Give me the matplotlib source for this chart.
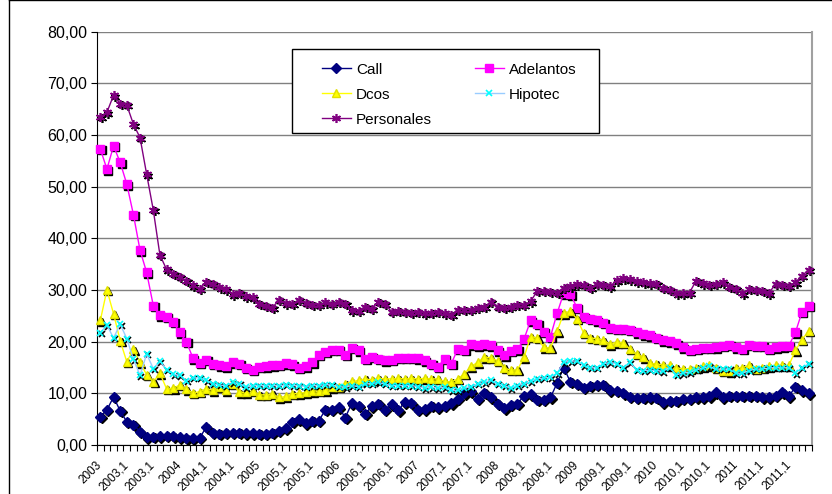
import matplotlib
matplotlib.use("Agg")
import matplotlib.pyplot as plt
from matplotlib.transforms import offset_copy, ScaledTranslation
from matplotlib.patches import Rectangle
from matplotlib.lines import Line2D
import numpy as np

plt.rcParams['font.family'] = ['Liberation Sans', 'DejaVu Sans']

# Monthly rates, Jan 2003 - Dec 2011
call = [5.5, 6.8, 9.3, 6.6, 4.5, 3.9, 2.6, 1.5, 1.6, 1.7, 1.8, 1.7, 1.5, 1.3, 1.3, 1.4, 3.4,
        2.4, 2.2, 2.4, 2.4, 2.4, 2.3, 2.3, 2.2, 2.2, 2.4, 2.7, 3.2, 4.5, 5.0, 4.2, 4.7, 4.7, 6.8, 6.8,
        7.3, 5.3, 8.1, 7.6, 6.0, 7.5, 8.0, 6.8, 7.9, 6.7, 8.3, 8.1, 6.8, 6.9, 7.6, 7.3, 7.6, 8.1,
        9.0, 10.0, 10.4, 8.9,
        10.1, 9.2, 8.0, 7.1, 7.8, 8.0, 9.5, 9.8, 8.7, 8.8, 9.2, 12.0, 15.0, 12.2,
        11.9, 11.1, 11.5, 11.7, 11.6, 10.6, 10.5, 10.0, 9.3, 9.1, 9.1, 9.2, 9.1, 8.3, 8.6, 8.5, 8.9, 9.0,
        9.2, 9.2, 9.4, 10.2, 9.2, 9.5, 9.5, 9.5, 9.5, 9.5, 9.2, 9.2, 9.5, 10.2, 9.4, 11.3, 10.6, 10.0]

adelantos = [57.3, 53.4, 57.9, 54.7, 50.5, 44.6, 37.7, 33.4, 27.0, 25.1, 24.8, 23.8, 21.8, 20.0, 16.8, 15.9, 16.5,
             15.7, 15.4, 15.2, 16.0, 15.7, 14.9, 14.5, 15.1, 15.2, 15.4, 15.5, 15.8, 15.6, 14.9, 15.2, 16.0, 17.5, 18.0, 18.4,
             18.4, 17.5, 18.8, 18.3, 16.7, 17.1, 16.7, 16.4, 16.5, 16.9, 16.9, 16.9, 16.8, 16.4, 15.7, 15.1, 16.7, 15.7,
             18.6, 18.4, 19.5, 19.3,
             19.5, 19.3, 18.3, 17.4, 18.2, 18.5, 20.5, 24.1, 23.5, 21.9, 21.0, 25.5, 29.4, 29.2,
             26.6, 24.8, 24.4, 24.1, 23.6, 22.7, 22.5, 22.5, 22.3, 21.8, 21.4, 21.2, 20.7, 20.3, 20.1, 19.7, 18.9, 18.4,
             18.6, 18.8, 18.8, 18.9, 19.2, 19.4, 18.9, 18.6, 19.4, 19.2, 19.2, 18.6, 18.9, 19.1, 19.2, 21.8, 25.8, 27.0]

dcos = [24.1, 30.0, 25.4, 20.2, 16.1, 18.5, 16.0, 13.6, 12.2, 13.9, 10.9, 11.0, 11.6, 10.8, 10.1, 10.3, 10.9,
        10.6, 11.3, 10.6, 11.8, 10.2, 10.2, 10.5, 9.7, 9.7, 9.9, 9.2, 9.4, 9.9, 10.0, 10.2, 10.4, 10.5, 10.6, 11.2,
        11.3, 11.8, 12.3, 12.5, 12.8, 12.6, 12.9, 12.8, 12.8, 12.9, 12.8, 12.9, 12.8, 12.9, 12.8, 12.8, 12.3, 12.2,
        12.8, 13.8, 15.2, 16.0,
        17.0, 16.9, 16.3, 14.9, 14.5, 14.5, 17.0, 21.0, 20.7, 18.9, 18.8, 22.0, 25.5, 25.9,
        24.4, 21.7, 20.7, 20.6, 20.3, 19.5, 19.9, 19.8, 18.6, 17.6, 17.0, 15.8, 15.7, 15.5, 15.4, 15.0, 14.7, 14.8,
        14.9, 15.2, 15.4, 14.9, 14.4, 14.3, 15.0, 15.0, 15.4, 14.7, 15.0, 15.2, 15.4, 15.4, 15.4, 18.3, 20.4, 22.1]

hipotec = [21.7, 23.2, 20.7, 23.4, 20.6, 16.6, 13.5, 17.6, 14.8, 16.2, 14.6, 13.7, 13.5, 12.4, 13.0, 13.0, 12.5,
           11.9, 11.6, 11.5, 12.1, 11.9, 11.2, 11.5, 11.5, 11.5, 11.5, 11.5, 11.6, 11.5, 11.5, 11.3, 11.5, 11.5, 11.7, 11.6,
           11.3, 11.2, 11.5, 11.3, 11.8, 11.9, 12.1, 11.8, 11.5, 11.5, 11.5, 11.5, 11.3, 11.0, 11.2, 11.0, 11.2, 10.6,
           10.6, 11.0, 11.3, 11.8,
           12.1, 12.5, 11.8, 11.5, 11.0, 11.5, 11.8, 12.3, 12.8, 13.0, 13.1, 13.9, 16.0, 16.2,
           16.3, 15.4, 14.9, 15.0, 15.7, 16.0, 15.7, 15.0, 16.0, 14.5, 14.4, 14.5, 14.4, 14.3, 15.0, 13.6, 13.9, 14.1,
           14.5, 14.9, 15.2, 14.7, 14.7, 14.7, 13.9, 13.9, 14.4, 14.7, 14.7, 14.9, 15.0, 14.9, 15.0, 13.9, 15.0, 15.7]

personales = [63.5, 64.4, 67.7, 66.1, 65.8, 62.1, 59.5, 52.4, 45.5, 36.8, 34.0, 33.1, 32.6, 31.8, 30.9, 30.2, 31.6,
              31.2, 30.5, 30.1, 29.2, 29.5, 28.8, 28.6, 27.3, 26.9, 26.6, 28.1, 27.4, 27.3, 28.1, 27.5, 27.1, 27.1, 27.6, 27.3,
              27.7, 27.3, 26.1, 26.0, 26.8, 26.4, 27.7, 27.3, 25.8, 26.0, 25.8, 25.6, 25.8, 25.5, 25.6, 25.8, 25.5, 25.2,
              26.2, 26.2, 26.2, 26.6,
              26.7, 27.7, 26.8, 26.5, 26.7, 27.1, 27.1, 27.8, 29.8, 29.9, 29.7, 29.5, 30.4, 30.7,
              31.1, 31.0, 30.4, 31.2, 31.0, 30.7, 31.9, 32.3, 32.1, 31.7, 31.5, 31.3, 31.2, 30.4, 30.0, 29.4, 29.4, 29.5,
              31.8, 31.3, 31.0, 31.2, 31.5, 30.6, 30.2, 29.4, 30.2, 30.0, 29.9, 29.4, 31.2, 31.0, 30.8, 31.5, 32.8, 33.9]

# One label every fourth month
tick_labels = ["2003", "2003,1", "2003,1", "2004", "2004,1", "2004,1", "2005", "2005,1", "2005,1",
               "2006", "2006,1", "2006,1", "2007", "2007,1", "2007,1", "2008", "2008,1", "2008,1",
               "2009", "2009,1", "2009,1", "2010", "2010,1", "2010,1", "2011", "2011,1", "2011,1"]

W, H = 832, 494
fig = plt.figure(figsize=(W / 100, H / 100), dpi=100)
ax = fig.add_axes([97 / W, 1 - 445 / H, (812 - 97) / W, (445 - 31.7) / H])

x = np.arange(len(call))

series = [
    ("Call", call, dict(color="#000080", marker="D", ms=4.6, mfc="#000080", mec="#000080")),
    ("Adelantos", adelantos, dict(color="#FF00FF", marker="s", ms=5.6, mfc="#FF00FF", mec="#FF00FF")),
    ("Dcos", dcos, dict(color="#FFFF00", marker="^", ms=6.2, mfc="#FFFF00", mec="#E0E000")),
    ("Hipotec", hipotec, dict(color="#99CCFF", marker="x", ms=4.6, mfc="#00FFFF", mec="#00FFFF", mew=1.2)),
    ("Personales", personales, dict(color="#800080", marker=(6, 2, 0), ms=6.5, mfc="#800080", mec="#800080", mew=1.2)),
]

shadow = offset_copy(ax.transData, fig=fig, x=1.4, y=-1.4, units="dots")
handles = {}
for z, (name, vals, st) in enumerate(series):
    # dark drop shadow under the markers
    ax.plot(x, vals, linestyle="none", marker=st["marker"], ms=st["ms"],
            mfc="#000000", mec="#000000", mew=st.get("mew", 1.0),
            transform=shadow, zorder=3 + 2 * z, clip_on=False)
    h, = ax.plot(x, vals, lw=1.0, zorder=4 + 2 * z, clip_on=False, label=name,
                 color=st["color"], marker=st["marker"], ms=st["ms"],
                 mfc=st["mfc"], mec=st["mec"], mew=st.get("mew", 1.0))
    handles[name] = h

ax.set_xlim(-0.5, len(call) - 0.5)
ax.set_ylim(0, 80)
ax.set_yticks(np.arange(0, 81, 10))
ax.set_yticklabels([f"{v:.2f}".replace(".", ",") for v in range(0, 81, 10)], fontsize=11.5)
ax.yaxis.grid(True, color="#808080", lw=1.0)
ax.set_axisbelow(True)

ax.set_xticks(np.arange(0, len(call), 4))
ax.set_xticklabels(tick_labels, rotation=45, ha="right", va="center", fontsize=8.5,
                   rotation_mode="anchor")
shift = ScaledTranslation(-3 / 100, 0, fig.dpi_scale_trans)
for lab in ax.get_xticklabels():
    lab.set_transform(lab.get_transform() + shift)
ax.set_xticks(np.arange(-0.5, len(call), 1), minor=True)
ax.tick_params(axis="x", which="major", length=0, pad=13)
ax.tick_params(axis="x", which="minor", length=4, width=0.8, direction="out", color="#000000")
ax.tick_params(axis="y", length=4, width=0.8, direction="out", pad=3)

ax.spines["top"].set_visible(False)
ax.spines["right"].set_color("#A0A0A0")
ax.spines["right"].set_linewidth(1.5)
ax.spines["left"].set_color("#000000")
ax.spines["bottom"].set_color("#000000")

# legend, with its frame drawn separately
order = ["Call", "Dcos", "Personales", "Adelantos", "Hipotec"]
leg = fig.legend([handles[n] for n in order], order, ncol=2, frameon=False,
                 loc="upper left", bbox_to_anchor=(314 / W, 1 - 55 / H),
                 borderpad=0, fontsize=11, handlelength=1.9, handletextpad=0.35,
                 labelspacing=0.72, columnspacing=2.8)
fig.patches.append(Rectangle((292 / W, 1 - 133 / H), (599 - 292) / W, (133 - 49) / H,
                             transform=fig.transFigure, fill=True, facecolor="white",
                             edgecolor="black", lw=1.0, zorder=5))
leg.set_zorder(6)

# chart-area frame edges (left and top)
fig.add_artist(Line2D([9 / W, 9 / W], [0, 1 - 0.5 / H], transform=fig.transFigure,
                      color="black", lw=1.0))
fig.add_artist(Line2D([9 / W, 1], [1 - 0.5 / H, 1 - 0.5 / H], transform=fig.transFigure,
                      color="black", lw=1.0))

fig.savefig("out.png", dpi=100)
